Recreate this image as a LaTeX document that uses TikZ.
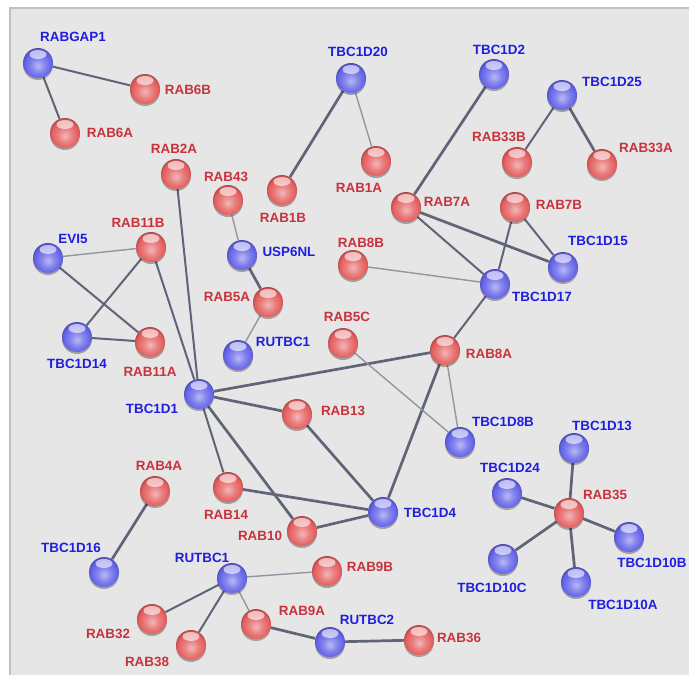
\documentclass[tikz,border=0pt]{standalone}
\usepackage{fontspec}
\setmainfont{Liberation Sans}
\usetikzlibrary{shadows}
\definecolor{bgc}{RGB}{230,230,230}
\definecolor{framec}{RGB}{192,192,192}
\definecolor{bluel}{RGB}{30,30,225}
\definecolor{redl}{RGB}{200,50,60}
\definecolor{ballb}{RGB}{100,100,232}
\definecolor{ballr}{RGB}{228,95,95}
\definecolor{edgec}{RGB}{95,100,118}
\definecolor{edgel}{RGB}{145,150,162}
\pgfdeclareradialshading{bshade}{\pgfpoint{0bp}{-5bp}}{color(0bp)=(ballb!45!white); color(12bp)=(ballb!80!white); color(22bp)=(ballb); color(27bp)=(ballb!80!black); color(30bp)=(ballb!60!black); color(50bp)=(ballb!60!black)}
\pgfdeclareradialshading{rshade}{\pgfpoint{0bp}{-5bp}}{color(0bp)=(ballr!45!white); color(12bp)=(ballr!80!white); color(22bp)=(ballr); color(27bp)=(ballr!80!black); color(30bp)=(ballr!60!black); color(50bp)=(ballr!60!black)}
\pgfdeclarelayer{bg}\pgfsetlayers{bg,main}
\tikzset{
 ball/.style={circle,minimum size=30pt,inner sep=0pt,
   drop shadow={shadow xshift=0pt,shadow yshift=-2pt,opacity=0.3,fill=black},
   path picture={\fill[white,opacity=0.6] ([yshift=8.5pt]path picture bounding box.center) ellipse (8.5pt and 4.5pt);}},
 bball/.style={ball,shading=bshade},
 rball/.style={ball,shading=rshade},
 lab/.style={font=\fontsize{13.4}{14}\selectfont\bfseries,inner sep=0pt},
 blab/.style={lab,text=bluel},
 rlab/.style={lab,text=redl},
 ethick/.style={draw=edgec,line width=2.7pt},
 emed/.style={draw=edgec,line width=2pt},
 ethin/.style={draw=edgel,line width=1.4pt},
}
\newcommand\pn[7]{\node[#1ball] (#2) at (#3,#4) {}; \node[#1lab] (#2-l) at (#6,#7) {#5};}
\begin{document}
\begin{tikzpicture}[x=1pt,y=-1pt]
\useasboundingbox (0,0) rectangle (689,675);
\pn{b}{RABGAP1}{38}{63}{RABGAP1}{73}{37}
\pn{r}{RAB6B}{145}{89}{RAB6B}{188}{90}
\pn{r}{RAB6A}{65}{133}{RAB6A}{110}{133}
\pn{b}{TBC1D20}{351}{78}{TBC1D20}{358}{52}
\pn{b}{TBC1D2}{494}{74}{TBC1D2}{499}{50}
\pn{b}{TBC1D25}{562}{95}{TBC1D25}{612}{82}
\pn{r}{RAB33B}{517}{162}{RAB33B}{499}{137}
\pn{r}{RAB33A}{602}{164}{RAB33A}{646}{148}
\pn{r}{RAB2A}{176}{174}{RAB2A}{174}{149}
\pn{r}{RAB43}{228}{200}{RAB43}{226}{177}
\pn{r}{RAB1B}{282}{190}{RAB1B}{283}{218}
\pn{r}{RAB1A}{376}{161}{RAB1A}{359}{188}
\pn{r}{RAB7A}{406}{207}{RAB7A}{447}{202}
\pn{r}{RAB7B}{515}{207}{RAB7B}{559}{205}
\pn{r}{RAB11B}{151}{247}{RAB11B}{138}{223}
\pn{b}{EVI5}{48}{258}{EVI5}{73}{239}
\pn{b}{USP6NL}{242}{255}{USP6NL}{289}{252}
\pn{r}{RAB8B}{353}{265}{RAB8B}{361}{243}
\pn{b}{TBC1D15}{563}{267}{TBC1D15}{598}{241}
\pn{b}{TBC1D17}{495}{284}{TBC1D17}{542}{297}
\pn{r}{RAB5A}{268}{302}{RAB5A}{227}{297}
\pn{b}{TBC1D14}{77}{337}{TBC1D14}{77}{364}
\pn{r}{RAB11A}{150}{342}{RAB11A}{150}{372}
\pn{b}{RUTBCa}{238}{355}{RUTBC1}{283}{342}
\pn{r}{RAB5C}{343}{343}{RAB5C}{347}{317}
\pn{r}{RAB8A}{445}{350}{RAB8A}{489}{354}
\pn{b}{TBC1D1}{199}{394}{TBC1D1}{152}{409}
\pn{r}{RAB13}{297}{414}{RAB13}{343}{411}
\pn{b}{TBC1D8B}{460}{442}{TBC1D8B}{503}{422}
\pn{b}{TBC1D13}{574}{448}{TBC1D13}{602}{426}
\pn{b}{TBC1D24}{507}{493}{TBC1D24}{510}{468}
\pn{r}{RAB35}{569}{513}{RAB35}{605}{495}
\pn{b}{TBC1D4}{383}{512}{TBC1D4}{430}{513}
\pn{r}{RAB4A}{155}{491}{RAB4A}{159}{466}
\pn{r}{RAB14}{228}{487}{RAB14}{226}{515}
\pn{r}{RAB10}{302}{531}{RAB10}{260}{536}
\pn{b}{TBC1D10B}{629}{537}{TBC1D10B}{652}{563}
\pn{b}{TBC1D10C}{503}{559}{TBC1D10C}{492}{588}
\pn{b}{TBC1D10A}{576}{582}{TBC1D10A}{623}{605}
\pn{b}{TBC1D16}{104}{572}{TBC1D16}{71}{548}
\pn{b}{RUTBCb}{232}{578}{RUTBC1}{202}{558}
\pn{r}{RAB9B}{327}{571}{RAB9B}{370}{567}
\pn{r}{RAB32}{152}{619}{RAB32}{108}{634}
\pn{r}{RAB38}{191}{645}{RAB38}{147}{662}
\pn{r}{RAB9A}{256}{624}{RAB9A}{302}{611}
\pn{b}{RUTBC2}{330}{642}{RUTBC2}{367}{620}
\pn{r}{RAB36}{419}{640}{RAB36}{459}{638}
\begin{pgfonlayer}{bg}
\fill[white] (0,0) rectangle (689,675);
\filldraw[fill=bgc,draw=framec,line width=1.5pt] (10,8) rectangle (700,690);
\draw[emed] (RABGAP1) -- (RAB6B);
\draw[emed] (RABGAP1) -- (RAB6A);
\draw[ethick] (TBC1D20) -- (RAB1B);
\draw[ethin] (TBC1D20) -- (RAB1A);
\draw[ethick] (TBC1D2) -- (RAB7A);
\draw[emed] (TBC1D25) -- (RAB33B);
\draw[ethick] (TBC1D25) -- (RAB33A);
\draw[emed] (RAB2A) -- (TBC1D1);
\draw[ethin] (RAB43) -- (USP6NL);
\draw[ethick] (USP6NL) -- (RAB5A);
\draw[ethin] (RAB5A) -- (RUTBCa);
\draw[ethin] (EVI5) -- (RAB11B);
\draw[emed] (EVI5) -- (RAB11A);
\draw[emed] (RAB11B) -- (TBC1D14);
\draw[emed] (TBC1D14) -- (RAB11A);
\draw[emed] (RAB11B) -- (TBC1D1);
\draw[emed] (RAB7A) -- (TBC1D17);
\draw[ethick] (RAB7A) -- (TBC1D15);
\draw[emed] (RAB7B) -- (TBC1D17);
\draw[emed] (RAB7B) -- (TBC1D15);
\draw[ethin] (RAB8B) -- (TBC1D17);
\draw[emed] (TBC1D17) -- (RAB8A);
\draw[ethick] (TBC1D1) -- (RAB8A);
\draw[ethick] (TBC1D1) -- (RAB13);
\draw[emed] (TBC1D1) -- (RAB14);
\draw[ethick] (TBC1D1) -- (RAB10);
\draw[ethick] (RAB13) -- (TBC1D4);
\draw[ethick] (RAB14) -- (TBC1D4);
\draw[ethick] (RAB10) -- (TBC1D4);
\draw[ethick] (TBC1D4) -- (RAB8A);
\draw[ethin] (RAB5C) -- (TBC1D8B);
\draw[ethin] (RAB8A) -- (TBC1D8B);
\draw[ethick] (RAB4A) -- (TBC1D16);
\draw[ethick] (RAB35) -- (TBC1D13);
\draw[ethick] (RAB35) -- (TBC1D24);
\draw[ethick] (RAB35) -- (TBC1D10B);
\draw[ethick] (RAB35) -- (TBC1D10C);
\draw[ethick] (RAB35) -- (TBC1D10A);
\draw[ethin] (RUTBCb) -- (RAB9B);
\draw[emed] (RUTBCb) -- (RAB32);
\draw[emed] (RUTBCb) -- (RAB38);
\draw[ethin] (RUTBCb) -- (RAB9A);
\draw[ethick] (RAB9A) -- (RUTBC2);
\draw[ethick] (RUTBC2) -- (RAB36);
\end{pgfonlayer}
\end{tikzpicture}
\end{document}
